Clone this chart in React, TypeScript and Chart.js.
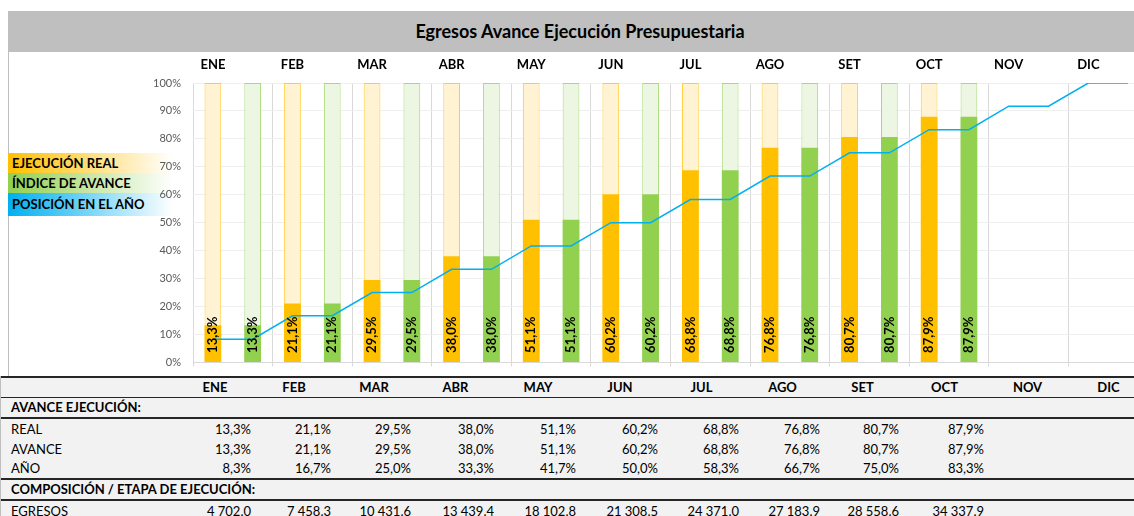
import React, { useEffect, useRef } from "react";
import { Chart, registerables } from "chart.js";

Chart.register(...registerables);

const months = ["ENE", "FEB", "MAR", "ABR", "MAY", "JUN", "JUL", "AGO", "SET", "OCT", "NOV", "DIC"];
const realPct = [13.3, 21.1, 29.5, 38.0, 51.1, 60.2, 68.8, 76.8, 80.7, 87.9];
const avancePct = [13.3, 21.1, 29.5, 38.0, 51.1, 60.2, 68.8, 76.8, 80.7, 87.9];
const yearPct = [8.3, 16.7, 25.0, 33.3, 41.7, 50.0, 58.3, 66.7, 75.0, 83.3, 91.7, 100.0];
const egresos = [4702.0, 7458.3, 10431.6, 13439.4, 18102.8, 21308.5, 24371.0, 27183.9, 28558.6, 34337.9];
const yTicks = [0, 10, 20, 30, 40, 50, 60, 70, 80, 90, 100];

const FONT = "Lato, 'Open Sans', sans-serif";
const ORANGE = "#FFC000";
const GREEN = "#92D050";
const BLUE = "#00B0F0";

// table column right edges (layout)
const colRights = [250, 330, 410, 493, 575, 657, 738, 819, 898, 983, 1064, 1145];
const firstColWidth = 172;

const pct = (v: number) => v.toFixed(1).replace(".", ",") + "%";
const num = (v: number) => v.toFixed(1).replace(/\B(?=(\d{3})+(?!\d))/g, "\u202F");

const slots: string[] = [];
months.forEach((m) => {
  slots.push(m + " R");
  slots.push(m + " A");
});

const monthLabelsPlugin = {
  id: "monthLabels",
  afterDraw(chart: any) {
    const { ctx, chartArea } = chart;
    const xs = chart.scales.x;
    ctx.save();
    ctx.font = `bold 13px ${FONT}`;
    ctx.fillStyle = "#000";
    ctx.textAlign = "center";
    ctx.textBaseline = "middle";
    months.forEach((m, i) => {
      ctx.fillText(m, xs.getPixelForValue(2 * i), chartArea.top - 18);
    });
    ctx.restore();
  },
};

const barLabelsPlugin = {
  id: "barLabels",
  afterDatasetsDraw(chart: any) {
    const { ctx } = chart;
    ctx.save();
    ctx.font = `bold 13px ${FONT}`;
    ctx.fillStyle = "#000";
    ctx.textAlign = "left";
    ctx.textBaseline = "middle";
    chart.data.datasets.forEach((ds: any, di: number) => {
      if (!ds.showValue) return;
      const meta = chart.getDatasetMeta(di);
      meta.data.forEach((el: any, i: number) => {
        const v = ds.data[i];
        if (v === null || v === undefined) return;
        ctx.save();
        ctx.translate(el.x, el.base - 9);
        ctx.rotate(-Math.PI / 2);
        ctx.fillText(pct(v), 0, 0);
        ctx.restore();
      });
    });
    ctx.restore();
  },
};

function ChartCanvas() {
  const ref = useRef<HTMLCanvasElement>(null);
  useEffect(() => {
    if (!ref.current) return;
    const realData = slots.map((_, i) => (i % 2 === 0 && realPct[i / 2] !== undefined ? realPct[i / 2] : null));
    const avData = slots.map((_, i) =>
      i % 2 === 1 && avancePct[(i - 1) / 2] !== undefined ? avancePct[(i - 1) / 2] : null
    );
    const bgReal = slots.map((_, i) => (i % 2 === 0 && realPct[i / 2] !== undefined ? 100 : null));
    const bgAv = slots.map((_, i) => (i % 2 === 1 && avancePct[(i - 1) / 2] !== undefined ? 100 : null));
    const lineData = slots.map((_, i) => yearPct[Math.floor(i / 2)]);

    const common = { grouped: false, barPercentage: 0.42, categoryPercentage: 1 };
    const chart = new Chart(ref.current, {
      type: "bar",
      data: {
        labels: slots,
        datasets: [
          {
            type: "line",
            label: "POSICIÓN EN EL AÑO",
            data: lineData,
            borderColor: BLUE,
            borderWidth: 1.5,
            pointRadius: 0,
            tension: 0,
            order: 0,
          } as any,
          { label: "EJECUCIÓN REAL", data: realData, backgroundColor: ORANGE, order: 1, showValue: true, ...common } as any,
          { label: "ÍNDICE DE AVANCE", data: avData, backgroundColor: GREEN, order: 1, showValue: true, ...common } as any,
          {
            label: "bgReal",
            data: bgReal,
            backgroundColor: "#FFF3D4",
            borderColor: "#FFCC33",
            borderWidth: 1,
            order: 2,
            ...common,
          } as any,
          {
            label: "bgAv",
            data: bgAv,
            backgroundColor: "#ECF6E2",
            borderColor: "#A8DA78",
            borderWidth: 1,
            order: 2,
            ...common,
          } as any,
        ],
      },
      options: {
        responsive: false,
        animation: false,
        devicePixelRatio: 1,
        layout: { padding: { top: 31, left: 0, right: 0, bottom: 0 } },
        plugins: { legend: { display: false }, tooltip: { enabled: false } },
        scales: {
          x: {
            offset: true,
            grid: {
              offset: true,
              color: (c: any) => (c.index % 2 === 0 ? "#D9D9D9" : "rgba(0,0,0,0)"),
              tickLength: 4,
              drawTicks: true,
            },
            border: { color: "#D9D9D9" },
            ticks: { display: false, autoSkip: false },
            afterFit: (s: any) => {
              s.height = 13;
            },
          },
          y: {
            min: 0,
            max: 100,
            afterBuildTicks: (s: any) => {
              s.ticks = yTicks.map((v) => ({ value: v }));
            },
            ticks: {
              callback: (v: any) => v + "%",
              color: "#595959",
              font: { size: 11, family: FONT },
              padding: 12,
            },
            grid: { color: "#EFEFEF", drawTicks: false },
            border: { display: false },
            afterFit: (s: any) => {
              s.width = 185;
            },
          },
        },
      } as any,
      plugins: [monthLabelsPlugin, barLabelsPlugin],
    });
    return () => chart.destroy();
  }, []);
  return <canvas ref={ref} width={1140} height={329} style={{ position: "absolute", left: 8, top: 52 }} />;
}

const legendItems = [
  { text: "EJECUCIÓN REAL", color: ORANGE, top: 153, h: 20 },
  { text: "ÍNDICE DE AVANCE", color: GREEN, top: 173, h: 20 },
  { text: "POSICIÓN EN EL AÑO", color: BLUE, top: 193, h: 23 },
];

function Row(props: {
  label: string;
  bold?: boolean;
  cells?: string[];
  header?: boolean;
  h: number;
  borderTop?: string;
  borderBottom?: string;
}) {
  const { label, bold, cells, header, h, borderTop, borderBottom } = props;
  return (
    <div
      style={{
        display: "flex",
        height: h,
        lineHeight: h + "px",
        borderTop: borderTop,
        borderBottom: borderBottom,
        fontWeight: bold ? 700 : 400,
        width: 1145,
      }}
    >
      <div
        style={{
          width: firstColWidth,
          flex: "0 0 auto",
          paddingLeft: 10,
          boxSizing: "border-box",
          whiteSpace: "nowrap",
          overflow: "visible",
        }}
      >
        {label}
      </div>
      {colRights.map((r, i) => {
        const w = r - (i === 0 ? firstColWidth : colRights[i - 1]);
        const c = cells ? cells[i] ?? "" : "";
        return (
          <div
            key={i}
            style={{
              width: w,
              flex: "0 0 auto",
              textAlign: header ? "center" : "right",
              paddingLeft: header ? 6 : 0,
              boxSizing: "border-box",
              whiteSpace: "nowrap",
            }}
          >
            {c}
          </div>
        );
      })}
    </div>
  );
}

export default function App() {
  const line = "2px solid #262626";
  const thin = "1.5px solid #262626";
  return (
    <div
      style={{
        position: "absolute",
        left: 0,
        top: 0,
        width: 1134,
        height: 516,
        overflow: "hidden",
        background: "#fff",
        fontFamily: FONT,
        color: "#000",
      }}
    >
      <div
        style={{
          position: "absolute",
          left: 8,
          top: 11,
          width: 1126,
          height: 41,
          background: "#BFBFBF",
          lineHeight: "41px",
          textAlign: "center",
          fontWeight: 700,
          fontSize: 18,
          paddingLeft: 18,
          boxSizing: "border-box",
        }}
      >
        Egresos Avance Ejecución Presupuestaria
      </div>
      <div style={{ position: "absolute", left: 8, top: 52, width: 1, height: 324, background: "#BFBFBF" }} />
      {legendItems.map((it) => (
        <div
          key={it.text}
          style={{
            position: "absolute",
            left: 8,
            top: it.top,
            width: 165,
            height: it.h,
            lineHeight: it.h + "px",
            background: `linear-gradient(to right, ${it.color} 0%, ${it.color}AA 35%, ${it.color}00 100%)`,
            fontWeight: 700,
            fontSize: 13,
            paddingLeft: 4,
            boxSizing: "border-box",
            whiteSpace: "nowrap",
          }}
        >
          {it.text}
        </div>
      ))}
      <ChartCanvas />
      <div
        style={{
          position: "absolute",
          left: 0,
          top: 376,
          width: 1134,
          height: 150,
          background: "#F2F2F2",
          borderLeft: "1px solid #BFBFBF",
          fontSize: 13,
          overflow: "hidden",
        }}
      >
        <Row label="" header bold cells={months} h={19} borderTop={line} borderBottom={thin} />
        <Row label="AVANCE EJECUCIÓN:" bold h={19} borderBottom={line} />
        <Row label="REAL" cells={realPct.map(pct)} h={20} />
        <Row label="AVANCE" cells={avancePct.map(pct)} h={20} />
        <Row label="AÑO" cells={yearPct.slice(0, realPct.length).map(pct)} h={19} borderBottom={line} />
        <Row label="COMPOSICIÓN / ETAPA DE EJECUCIÓN:" bold h={19} borderBottom={line} />
        <Row label="EGRESOS" cells={egresos.map(num)} h={20} />
      </div>
    </div>
  );
}
